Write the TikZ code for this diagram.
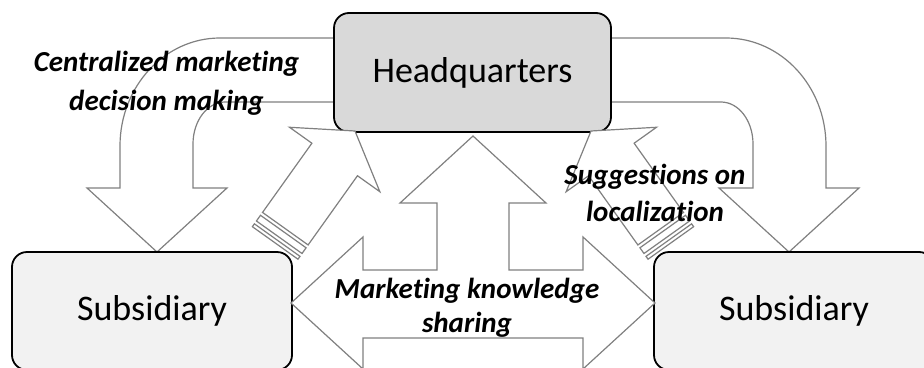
\documentclass[tikz,border=0pt]{standalone}
\usepackage{fontspec}
\setmainfont{Carlito}[RawFeature={-liga;-clig;-dlig;-calt}]
\definecolor{hqfill}{HTML}{D9D9D9}
\definecolor{subfill}{HTML}{F2F2F2}
\definecolor{arrowline}{HTML}{808080}
\begin{document}
\begin{tikzpicture}[x=1pt,y=-1pt,
  box/.style={draw=black, line width=1.8pt, rounded corners=15pt, inner sep=0pt,
    font=\fontsize{36}{43}\selectfont},
  flow/.style={draw=arrowline, line width=1.2pt, fill=white, line join=miter},
  lbl/.style={font=\fontsize{29}{35}\selectfont\bfseries\itshape, anchor=base, inner sep=0pt}]
\useasboundingbox (0,0) rectangle (924,367);
\clip (0,0) rectangle (924,367);

% U-turn arrows from headquarters down to each subsidiary
\draw[flow] (340,38) -- (220,38) .. controls (164.8,38) and (120,86.4) .. (120,146)
  -- (120,188) -- (87,188) -- (157,252) -- (227,188) -- (193,188) -- (193,144)
  .. controls (193,120.8) and (207.3,102) .. (225,102) -- (340,102);
\draw[flow] (606,38) -- (726,38) .. controls (781.2,38) and (826,86.4) .. (826,146)
  -- (826,188) -- (859,188) -- (789,252) -- (719,188) -- (753,188) -- (753,144)
  .. controls (753,120.8) and (738.7,102) .. (721,102) -- (606,102);

% organisation boxes
\node[box, fill=hqfill, minimum width=277pt, minimum height=119pt] (hq) at (472.5,72.5) {Headquarters};
\node[box, fill=subfill, minimum width=280pt, minimum height=118pt] (subL) at (152,311) {Subsidiary};
\node[box, fill=subfill, minimum width=280pt, minimum height=118pt] (subR) at (794,311) {Subsidiary};

% three-way knowledge sharing arrow
\draw[flow] (473,136) -- (546,203) -- (509,203) -- (509,270) -- (583,270) -- (583,237)
  -- (655,303) -- (583,369) -- (583,338) -- (363,338) -- (363,369) -- (291,303)
  -- (363,237) -- (363,270) -- (437,270) -- (437,203) -- (400,203) -- cycle;

% striped arrows from subsidiaries up to headquarters
\begin{scope}[shift={(355,131)}, rotate=54.5]
  \draw[flow] (0,0) -- (-35,55.5) -- (-35,28) -- (-120,28) -- (-120,-28) -- (-35,-28) -- (-35,-55.5) -- cycle;
  \draw[flow] (-123.5,28) rectangle (-130.5,-28);
  \draw[flow] (-134,28) rectangle (-137.5,-28);
\end{scope}
\begin{scope}[shift={(591,131)}, rotate=125.5]
  \draw[flow] (0,0) -- (-35,55.5) -- (-35,28) -- (-120,28) -- (-120,-28) -- (-35,-28) -- (-35,-55.5) -- cycle;
  \draw[flow] (-123.5,28) rectangle (-130.5,-28);
  \draw[flow] (-134,28) rectangle (-137.5,-28);
\end{scope}

% flow labels
\node[lbl] (cen1) at (166.5,71) {Centralized marketing};
\node[lbl] (cen2) at (166.5,110.5) {decision making};
\node[lbl] (sug1) at (655,184.5) {Suggestions on};
\node[lbl] (sug2) at (655,221) {localization};
\node[lbl] (mkt1) at (467,298) {Marketing knowledge};
\node[lbl] (mkt2) at (467,332) {sharing};
\end{tikzpicture}
\end{document}
